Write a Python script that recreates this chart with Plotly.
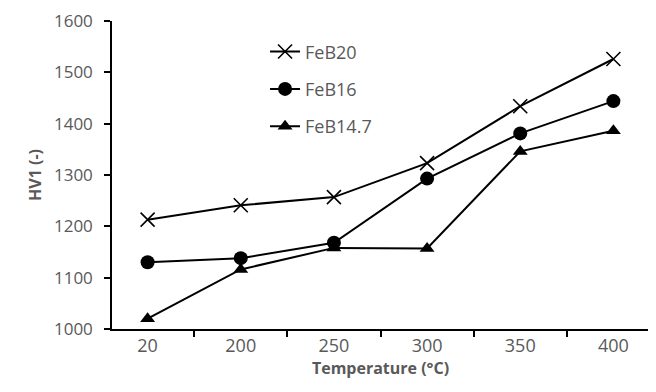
import plotly.graph_objects as go

temps = ["20", "200", "250", "300", "350", "400"]
feb20 = [1213, 1241, 1257, 1323, 1434, 1526]
feb16 = [1130, 1138, 1168, 1293, 1381, 1444]
feb147 = [1020, 1116, 1158, 1157, 1346, 1386]
yticks = [1000, 1100, 1200, 1300, 1400, 1500, 1600]

FONT = "Open Sans"
GRAY = "#595959"

fig = go.Figure()
fig.add_trace(go.Scatter(x=temps, y=feb20, name="FeB20", mode="lines+markers",
                         legendgroup="a",
                         line=dict(color="black", width=2),
                         marker=dict(symbol="x-thin-open", size=14, color="black",
                                     line=dict(color="black", width=1.6))))
fig.add_trace(go.Scatter(x=temps, y=feb16, name="FeB16", mode="lines+markers",
                         legendgroup="b",
                         line=dict(color="black", width=2),
                         marker=dict(symbol="circle", size=14, color="black")))
fig.add_trace(go.Scatter(x=temps, y=feb147, name="FeB14.7", mode="lines+markers",
                         legendgroup="c",
                         line=dict(color="black", width=2),
                         marker=dict(symbol="triangle-up", size=13, color="black")))

fig.update_layout(
    width=656, height=392,
    margin=dict(l=104, r=15, t=13, b=71),
    paper_bgcolor="white", plot_bgcolor="white",
    font=dict(family=FONT, size=18, color=GRAY),
    showlegend=True,
    legend=dict(x=0.285, y=0.96, xanchor="left", yanchor="top",
                bgcolor="rgba(0,0,0,0)", font=dict(size=18, color=GRAY),
                tracegroupgap=11, itemwidth=30),
    xaxis=dict(type="category", showgrid=False, showline=True, linecolor="black",
               linewidth=1.5, ticks="outside", tickson="boundaries", ticklen=6,
               tickcolor="black", tickwidth=1.5, automargin=False,
               title=dict(text="<b>Temperature (°C)</b>", standoff=2,
                          font=dict(size=16, color=GRAY)),
               tickfont=dict(size=18, color=GRAY)),
    yaxis=dict(range=[1000, 1600], tickvals=yticks, showgrid=False, zeroline=False,
               showline=True, linecolor="black", linewidth=1.5, ticks="outside",
               ticklen=6, tickcolor="black", tickwidth=1.5, automargin=False,
               ticklabelstandoff=8, ticklabeloverflow="allow",
               title=dict(text="<b>HV1 (-)</b>", standoff=8,
                          font=dict(size=16, color=GRAY)),
               tickfont=dict(size=17, color=GRAY)),
)

fig.write_html("out.html")
